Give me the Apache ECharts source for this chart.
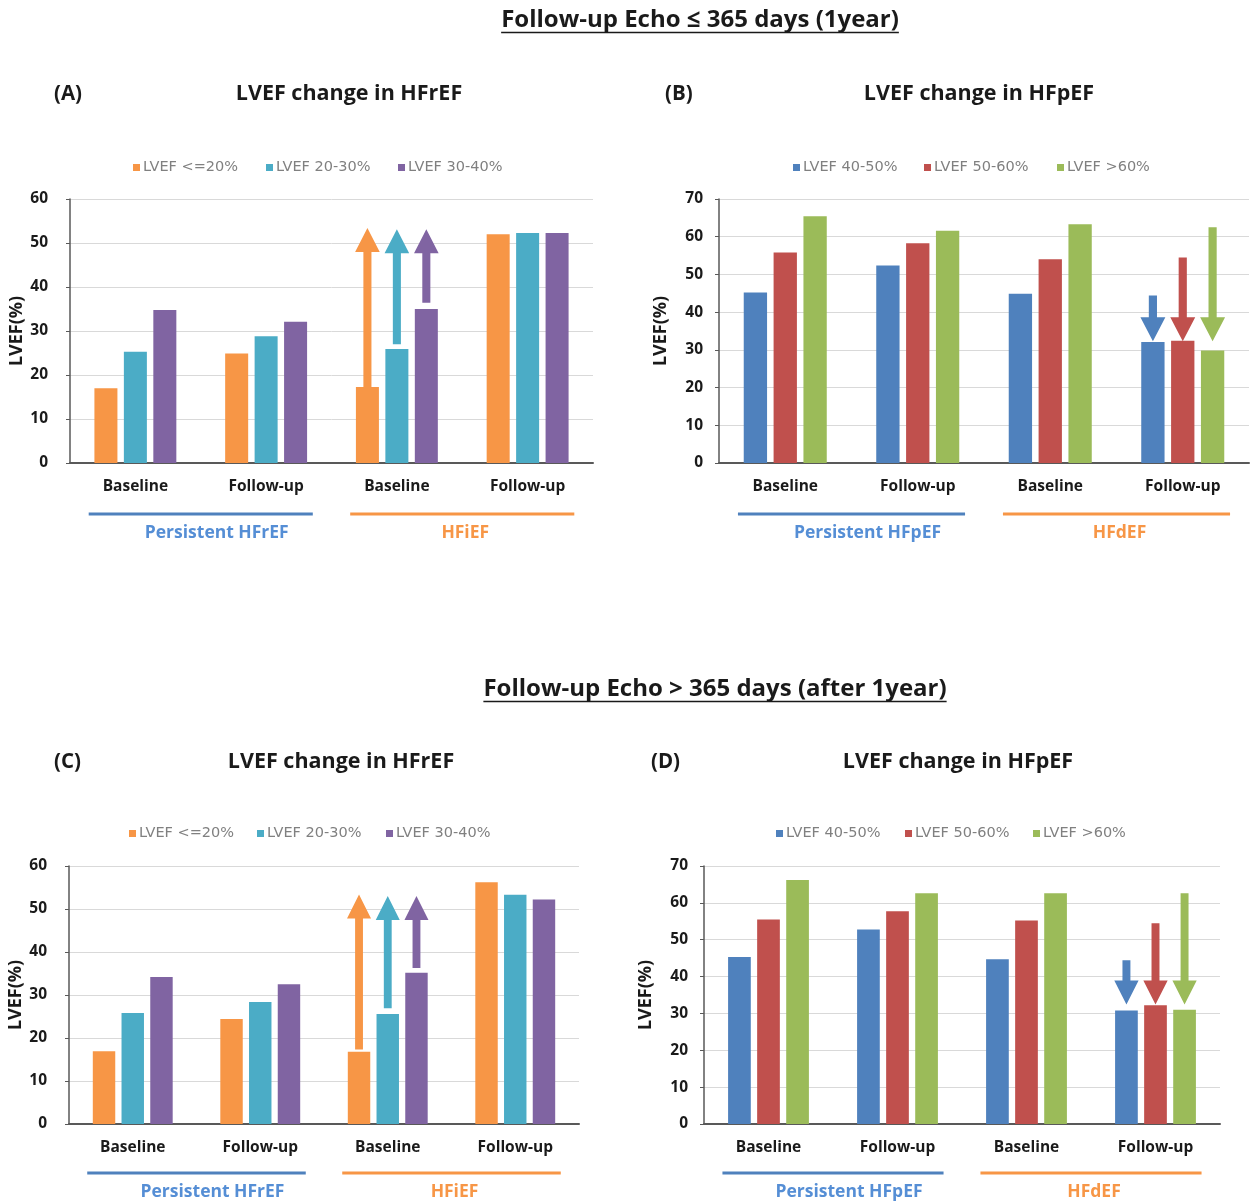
<!DOCTYPE html>
<html>
<head>
<meta charset="utf-8">
<script src="https://cdn.jsdelivr.net/npm/echarts@6/dist/echarts.min.js"></script>
<style>
  html, body { margin: 0; padding: 0; background: #ffffff; }
  #chart { width: 1252px; height: 1204px; }
</style>
</head>
<body>
<div id="chart"></div>
<script>
// ---- data -------------------------------------------------------------
const categories = ['Baseline', 'Follow-up', 'Baseline', 'Follow-up'];

const groupsRef = ['Persistent HFrEF', 'HFiEF'];
const groupsPres = ['Persistent HFpEF', 'HFdEF'];

const namesRef = ['LVEF <=20%', 'LVEF 20-30%', 'LVEF 30-40%'];
const namesPres = ['LVEF 40-50%', 'LVEF 50-60%', 'LVEF >60%'];

const ticksRef = [0, 10, 20, 30, 40, 50, 60];
const ticksPres = [0, 10, 20, 30, 40, 50, 60, 70];

// (A) follow-up echo <= 365 days, HFrEF
const aLow  = [17.0, 24.9, 17.3, 52.0];
const aMid  = [25.3, 28.8, 25.9, 52.3];
const aHigh = [34.8, 32.1, 35.0, 52.3];
// (B) follow-up echo <= 365 days, HFpEF
const b4050 = [45.2, 52.4, 44.9, 32.1];
const b5060 = [55.8, 58.3, 54.0, 32.4];
const b60   = [65.4, 61.6, 63.3, 29.8];
// (C) follow-up echo > 365 days, HFrEF
const cLow  = [16.9, 24.4, 16.8, 56.2];
const cMid  = [25.8, 28.4, 25.6, 53.3];
const cHigh = [34.2, 32.5, 35.2, 52.2];
// (D) follow-up echo > 365 days, HFpEF
const d4050 = [45.3, 52.8, 44.7, 30.8];
const d5060 = [55.5, 57.7, 55.2, 32.2];
const d60   = [66.2, 62.6, 62.6, 31.0];

// change arrows: [category index, series slot, from LVEF, to LVEF]
const arrowsA = [[2, 0, 17.3, 53.4], [2, 1, 27.0, 53.1], [2, 2, 36.4, 53.1]];
const arrowsB = [[3, 0, 44.4, 32.3], [3, 1, 54.5, 32.3], [3, 2, 62.5, 32.3]];
const arrowsC = [[2, 0, 17.3, 53.4], [2, 1, 26.9, 53.0], [2, 2, 36.3, 53.0]];
const arrowsD = [[3, 0, 44.4, 32.4], [3, 1, 54.5, 32.4], [3, 2, 62.6, 32.4]];

// ---- styling ----------------------------------------------------------
const colRef  = ['#f79646', '#4bacc6', '#8064a2'];
const colPres = ['#4f81bd', '#c0504d', '#9bbb59'];
const groupLineCol = ['#4f81bd', '#f79646'];
const groupTextCol = ['#558ed5', '#f79646'];
const groupTextShift = [16, 3];
const FONT = '"Open Sans", "Noto Sans", sans-serif';
const BAR_FRAC = 0.176;   // bar width as share of category band
const BAR_GAP = 0.28;     // gap between bars as share of bar width

const panels = [
  { key: 'A', grid: { left: 70, top: 199, width: 523, height: 264 }, ticks: ticksRef,
    names: namesRef, colors: colRef, values: [aLow, aMid, aHigh], arrows: arrowsA, groups: groupsRef,
    labelMargin: 22, nameGap: 42, legendX: [133, 266, 398], legendY: 160,
    tag: '(A)', tagX: 54, title: 'LVEF change in HFrEF', titleX: 349, titleY: 94,
    lineOff: 51, textOff: 70 },
  { key: 'B', grid: { left: 719, top: 199, width: 530, height: 264 }, ticks: ticksPres,
    names: namesPres, colors: colPres, values: [b4050, b5060, b60], arrows: arrowsB, groups: groupsPres,
    labelMargin: 16, nameGap: 49, legendX: [793, 924, 1057], legendY: 160,
    tag: '(B)', tagX: 665, title: 'LVEF change in HFpEF', titleX: 979, titleY: 94,
    lineOff: 51, textOff: 70 },
  { key: 'C', grid: { left: 69, top: 866, width: 510, height: 258 }, ticks: ticksRef,
    names: namesRef, colors: colRef, values: [cLow, cMid, cHigh], arrows: arrowsC, groups: groupsRef,
    labelMargin: 22, nameGap: 41, legendX: [129, 257, 386], legendY: 826,
    tag: '(C)', tagX: 54, title: 'LVEF change in HFrEF', titleX: 341, titleY: 762,
    lineOff: 49, textOff: 68 },
  { key: 'D', grid: { left: 704, top: 866, width: 516, height: 258 }, ticks: ticksPres,
    names: namesPres, colors: colPres, values: [d4050, d5060, d60], arrows: arrowsD, groups: groupsPres,
    labelMargin: 16, nameGap: 49, legendX: [776, 905, 1033], legendY: 826,
    tag: '(D)', tagX: 651, title: 'LVEF change in HFpEF', titleX: 958, titleY: 762,
    lineOff: 49, textOff: 68 }
];

// draws one change arrow above/below the matching bar
function arrowRenderer(colors) {
  return function (params, api) {
    const cat = api.value(0), slot = api.value(1);
    const p0 = api.coord([cat, api.value(2)]);
    const p1 = api.coord([cat, api.value(3)]);
    const band = api.size([1, 0])[0];
    const bw = band * BAR_FRAC, gap = bw * BAR_GAP;
    const x = p0[0] + (slot - 1) * (bw + gap);
    const sw = bw * 0.35 / 2, hw = bw * 1.07 / 2, hl = 24;
    const dir = p1[1] < p0[1] ? -1 : 1;
    const yb = p1[1] - dir * hl;
    const pts = [[x - sw, p0[1]], [x - sw, yb], [x - hw, yb], [x, p1[1]],
                 [x + hw, yb], [x + sw, yb], [x + sw, p0[1]]];
    return { type: 'polygon', shape: { points: pts }, style: { fill: colors[slot] } };
  };
}

const option = {
  backgroundColor: '#ffffff',
  animation: false,
  textStyle: { fontFamily: FONT },
  grid: [], xAxis: [], yAxis: [], legend: [], series: []
};

panels.forEach((p, k) => {
  option.grid.push(Object.assign({ containLabel: false }, p.grid));
  option.xAxis.push({
    type: 'category', gridIndex: k, data: categories,
    axisLine: { show: true, lineStyle: { color: '#595959', width: 2 } },
    axisTick: { show: false },
    axisLabel: { margin: 16, fontFamily: FONT, fontWeight: 'bold', fontSize: 15.5, color: '#1a1a1a' }
  });
  option.yAxis.push({
    type: 'value', gridIndex: k, min: p.ticks[0], max: p.ticks[p.ticks.length - 1],
    interval: p.ticks[1] - p.ticks[0],
    name: 'LVEF(%)', nameLocation: 'middle', nameGap: p.nameGap, nameRotate: 90,
    nameTextStyle: { fontFamily: FONT, fontWeight: 'bold', fontSize: 18, color: '#1a1a1a' },
    axisLine: { show: true, lineStyle: { color: '#595959', width: 1.5 } },
    axisTick: { show: true, length: 4, inside: false, lineStyle: { color: '#595959' } },
    axisLabel: { margin: p.labelMargin, fontFamily: FONT, fontWeight: 'bold', fontSize: 15.5, color: '#1a1a1a' },
    splitLine: { show: true, lineStyle: { color: '#d9d9d9', width: 1 } }
  });
  p.names.forEach((nm, i) => {
    option.legend.push({
      data: [nm], left: p.legendX[i], top: p.legendY, padding: 0,
      icon: 'rect', itemWidth: 7, itemHeight: 7, itemGap: 0,
      textStyle: { fontFamily: '"DejaVu Sans", sans-serif', fontSize: 14.5, color: '#808080', padding: [0, 0, 0, -2] },
      selectedMode: false
    });
    option.series.push({
      name: nm, type: 'bar', xAxisIndex: k, yAxisIndex: k,
      data: p.values[i], barWidth: (BAR_FRAC * 100) + '%', barGap: (BAR_GAP * 100) + '%',
      itemStyle: { color: p.colors[i] }, silent: true
    });
  });
  option.series.push({
    type: 'custom', name: 'change ' + p.key, xAxisIndex: k, yAxisIndex: k, z: 5, silent: true,
    renderItem: arrowRenderer(p.colors),
    data: p.arrows
  });
});

const chart = echarts.init(document.getElementById('chart'), null, { renderer: 'canvas' });
chart.setOption(option);

// ---- headings, group brackets --------------------------------------------
const measure = document.createElement('canvas').getContext('2d');
function textWidth(str, font) { measure.font = font; return measure.measureText(str).width; }

const headings = [
  { text: 'Follow-up Echo \u2264 365 days (1year)', x: 700, y: 20 },
  { text: 'Follow-up Echo > 365 days (after 1year)', x: 715, y: 689 }
];
const headFont = 'bold 24px "Open Sans"';

const graphic = [];
headings.forEach(h => {
  const w = textWidth(h.text, headFont);
  graphic.push({
    type: 'text', x: h.x, y: h.y,
    style: { text: h.text, font: headFont, fill: '#1a1a1a', align: 'center', verticalAlign: 'middle' }
  });
  graphic.push({
    type: 'line', shape: { x1: h.x - w / 2, y1: h.y + 12.5, x2: h.x + w / 2, y2: h.y + 12.5 },
    style: { stroke: '#1a1a1a', lineWidth: 1.5 }
  });
});

panels.forEach((p, k) => {
  graphic.push({
    type: 'text', x: p.tagX, y: p.titleY,
    style: { text: p.tag, font: 'bold 20.5px "Open Sans"', fill: '#1a1a1a', align: 'left', verticalAlign: 'middle' }
  });
  graphic.push({
    type: 'text', x: p.titleX, y: p.titleY,
    style: { text: p.title, font: 'bold 21.5px "Open Sans"', fill: '#1a1a1a', align: 'center', verticalAlign: 'middle' }
  });
  const x0 = chart.convertToPixel({ xAxisIndex: k }, 0);
  const x1 = chart.convertToPixel({ xAxisIndex: k }, 1);
  const band = x1 - x0;
  const yAxisPx = chart.convertToPixel({ yAxisIndex: k }, 0);
  p.groups.forEach((g, gi) => {
    const cx = (x0 + x1) / 2 + gi * 2 * band;
    const half = band * 0.857;
    graphic.push({
      type: 'line',
      shape: { x1: cx - half, y1: yAxisPx + p.lineOff, x2: cx + half, y2: yAxisPx + p.lineOff },
      style: { stroke: groupLineCol[gi], lineWidth: 3 }
    });
    graphic.push({
      type: 'text', x: cx + groupTextShift[gi], y: yAxisPx + p.textOff,
      style: { text: g, font: 'bold 17.5px "Open Sans"', fill: groupTextCol[gi], align: 'center', verticalAlign: 'middle' }
    });
  });
});

chart.setOption({ graphic: graphic });
</script>
</body>
</html>
